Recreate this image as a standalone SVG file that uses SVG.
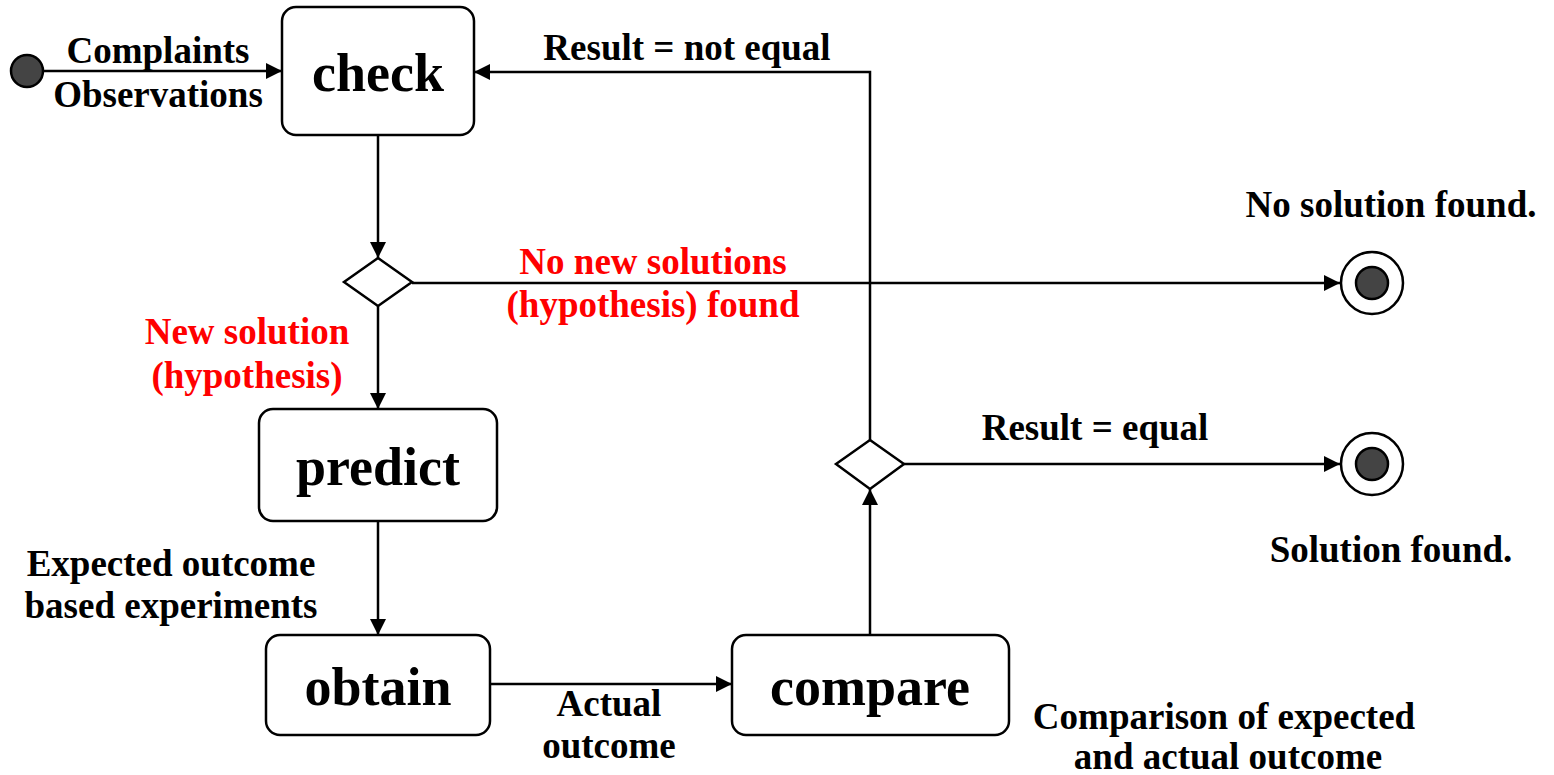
<svg xmlns="http://www.w3.org/2000/svg" width="1554" height="775" viewBox="0 0 1554 775">
  <style>
    .box { fill: #ffffff; stroke: #000000; stroke-width: 2.5; }
    .dia { fill: #ffffff; stroke: #000000; stroke-width: 2.5; }
    .edge { fill: none; stroke: #000000; stroke-width: 2.5; }
    .name { font-family: "Liberation Serif", "Times New Roman", serif; font-weight: bold; font-size: 54px; fill: #000000; text-anchor: middle; }
    .lbl { font-family: "Liberation Serif", "Times New Roman", serif; font-weight: bold; font-size: 37px; fill: #000000; text-anchor: middle; }
    .red { fill: #ff0000; }
    .dot { fill: #444444; stroke: #000000; stroke-width: 2.5; }
    .ring { fill: #ffffff; stroke: #000000; stroke-width: 2.5; }
  </style>
  <defs>
    <marker id="arrow" viewBox="0 0 10 10" refX="10" refY="5" markerWidth="16" markerHeight="16" markerUnits="userSpaceOnUse" orient="auto">
      <path d="M0,0 L10,5 L0,10 z" fill="#000000"/>
    </marker>
  </defs>
  <rect width="1554" height="775" fill="#ffffff"/>

  <!-- connectors -->
  <g id="connectors">
    <line class="edge" x1="42" y1="71" x2="282" y2="71" marker-end="url(#arrow)"/>
    <line class="edge" x1="378" y1="135" x2="378" y2="258" marker-end="url(#arrow)"/>
    <line class="edge" x1="412" y1="283" x2="1340" y2="283" marker-end="url(#arrow)"/>
    <line class="edge" x1="378" y1="306" x2="378" y2="409" marker-end="url(#arrow)"/>
    <line class="edge" x1="378" y1="521" x2="378" y2="635" marker-end="url(#arrow)"/>
    <line class="edge" x1="490" y1="684" x2="732" y2="684" marker-end="url(#arrow)"/>
    <line class="edge" x1="870" y1="635" x2="870" y2="489" marker-end="url(#arrow)"/>
    <polyline class="edge" points="870,440 870,72 474,72" marker-end="url(#arrow)"/>
    <line class="edge" x1="904" y1="464" x2="1340" y2="464" marker-end="url(#arrow)"/>
  </g>

  <!-- start state -->
  <g id="start">
    <circle class="dot" cx="27" cy="71" r="16"/>
  </g>

  <!-- activity nodes -->
  <g id="check">
    <rect class="box" x="282" y="7" width="192" height="128" rx="14"/>
    <text class="name" x="378" y="91">check</text>
  </g>
  <g id="predict">
    <rect class="box" x="259" y="409" width="238" height="112" rx="14"/>
    <text class="name" x="378" y="485">predict</text>
  </g>
  <g id="obtain">
    <rect class="box" x="266" y="635" width="224" height="100" rx="14"/>
    <text class="name" x="378" y="705">obtain</text>
  </g>
  <g id="compare">
    <rect class="box" x="732" y="635" width="277" height="100" rx="14"/>
    <text class="name" x="870" y="705">compare</text>
  </g>

  <!-- decisions -->
  <g id="decision-hypothesis">
    <polygon class="dia" points="378,258 412,282 378,306 344,282"/>
  </g>
  <g id="decision-result">
    <polygon class="dia" points="870,440 904,464 870,489 836,464"/>
  </g>

  <!-- final states -->
  <g id="end-no-solution">
    <circle class="ring" cx="1372" cy="283" r="31"/>
    <circle class="dot" cx="1372" cy="283" r="16"/>
  </g>
  <g id="end-solution">
    <circle class="ring" cx="1372" cy="464" r="31"/>
    <circle class="dot" cx="1372" cy="464" r="16"/>
  </g>

  <!-- labels -->
  <g id="labels">
    <text class="lbl" x="158" y="63">Complaints</text>
    <text class="lbl" x="158" y="107">Observations</text>
    <text class="lbl" x="687" y="60">Result = not equal</text>
    <text class="lbl" x="1391" y="217">No solution found.</text>
    <text class="lbl red" x="653" y="274">No new solutions</text>
    <text class="lbl red" x="653" y="317">(hypothesis) found</text>
    <text class="lbl red" x="247" y="344">New solution</text>
    <text class="lbl red" x="247" y="388">(hypothesis)</text>
    <text class="lbl" x="1095" y="440">Result = equal</text>
    <text class="lbl" x="171" y="576">Expected outcome</text>
    <text class="lbl" x="171" y="618">based experiments</text>
    <text class="lbl" x="609" y="716">Actual</text>
    <text class="lbl" x="609" y="758">outcome</text>
    <text class="lbl" x="1391" y="562">Solution found.</text>
    <text class="lbl" x="1224" y="729">Comparison of expected</text>
    <text class="lbl" x="1228" y="769">and actual outcome</text>
  </g>
</svg>
